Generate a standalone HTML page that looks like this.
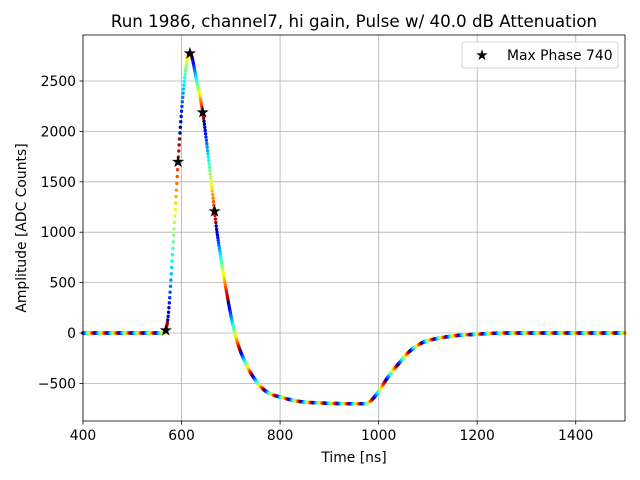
<!DOCTYPE html>
<html><head><meta charset="utf-8"><style>
body{margin:0;background:#fff;}
svg{display:block;font-family:"DejaVu Sans","Liberation Sans",sans-serif;}
</style></head><body>
<svg id="s" width="640" height="480" viewBox="0 0 640 480" xmlns="http://www.w3.org/2000/svg">
<rect width="640" height="480" fill="#fff"/>
<g id="grid" stroke="#b0b0b0" stroke-width="0.8"></g>
<g id="dots"></g>
<g id="stars"></g>
<rect x="83" y="35" width="542" height="386" fill="none" stroke="#000" stroke-width="0.8"/>
<g id="ticks" font-size="13.9" fill="#000"></g>
<text x="354" y="27" font-size="16.7" text-anchor="middle">Run 1986, channel7, hi gain, Pulse w/ 40.0 dB Attenuation</text>
<text x="354" y="462" font-size="13.9" text-anchor="middle">Time [ns]</text>
<text transform="translate(26,228) rotate(-90)" font-size="13.9" text-anchor="middle">Amplitude [ADC Counts]</text>
<rect x="462" y="42" width="156" height="26" rx="2" fill="#fff" fill-opacity="0.8" stroke="#ccc" stroke-width="0.8"/>
<text x="482" y="60" font-size="15" text-anchor="middle">★</text>
<text x="507" y="60" font-size="13.9">Max Phase 740</text>
</svg>
<script>
var NS="http://www.w3.org/2000/svg";
function X(t){return 83+(t-400)*542/1100;}
function Y(v){return 333-v*0.1008;}
function el(n,a,p){var e=document.createElementNS(NS,n);for(var k in a)e.setAttribute(k,a[k]);document.getElementById(p).appendChild(e);return e;}
var g="grid",tk="ticks";
for(var t=400;t<=1400;t+=200){var x=X(t);el("line",{x1:x,x2:x,y1:35,y2:421},g);el("line",{x1:x,x2:x,y1:421,y2:424.5,stroke:"#000","stroke-width":0.8},tk);var tx=el("text",{x:x,y:440,"text-anchor":"middle"},tk);tx.textContent=t;}
for(var v=-500;v<=2500;v+=500){var y=Y(v);el("line",{x1:83,x2:625,y1:y,y2:y},g);el("line",{x1:79.5,x2:83,y1:y,y2:y,stroke:"#000","stroke-width":0.8},tk);var ty=el("text",{x:76,y:y+5,"text-anchor":"end"},tk);ty.textContent=(v<0?"\u2212"+(-v):v);}
var P=[[380,0],[560,0],[565,5],[568,30],[572,130],[576,350],[580,650],[585,1050],[590,1450],[593,1700],[600,2200],[607,2560],[612,2730],[617,2780],[622,2720],[630,2520],[643,2190],[655,1720],[667,1210],[672,1000],[688,500],[708,0],[730,-300],[755,-500],[775,-590],[800,-635],[841,-680],[900,-697],[968,-702],[980,-690],[997,-600],[1020,-430],[1043,-290],[1060,-195],[1080,-120],[1100,-75],[1150,-30],[1200,-12],[1250,0],[1520,0]];
function f(t){for(var i=0;i<P.length-1;i++){if(t<=P[i+1][0]){var p0=P[Math.max(i-1,0)],p1=P[i],p2=P[i+1],p3=P[Math.min(i+2,P.length-1)];var u=(t-p1[0])/(p2[0]-p1[0]);var h=p2[0]-p1[0];var m1=(p2[1]-p0[1])/(p2[0]-p0[0]||1)*h,m2=(p3[1]-p1[1])/(p3[0]-p1[0]||1)*h;if(p1[1]==p2[1]){m1=0;m2=0;}var u2=u*u,u3=u2*u;return (2*u3-3*u2+1)*p1[1]+(u3-2*u2+u)*m1+(-2*u3+3*u2)*p2[1]+(u3-u2)*m2;}}return 0;}
function jet(x){function c(v){v=Math.max(0,Math.min(1,v));return Math.round(v*255);}var r=1.5-Math.abs(4*x-3),gg=1.5-Math.abs(4*x-2),b=1.5-Math.abs(4*x-1);return "rgb("+c(r)+","+c(gg)+","+c(b)+")";}
var d=document.getElementById("dots"),s="";
for(var t=400;t<=1500;t+=0.8){var ph=((t-568)/24.6+0.85)%1;if(ph<0)ph+=1;s+='<circle cx="'+X(t).toFixed(2)+'" cy="'+Y(f(t)).toFixed(2)+'" r="1.7" fill="'+jet(ph)+'"/>';}
d.innerHTML=s;
var st=[[568,30],[593,1700],[617,2780],[643,2190],[667,1210]],ss="";
st.forEach(function(p){ss+='<text x="'+X(p[0])+'" y="'+(Y(p[1])+5.5)+'" font-size="16" text-anchor="middle">★</text>';});
document.getElementById("stars").innerHTML=ss;
</script>
</body></html>
